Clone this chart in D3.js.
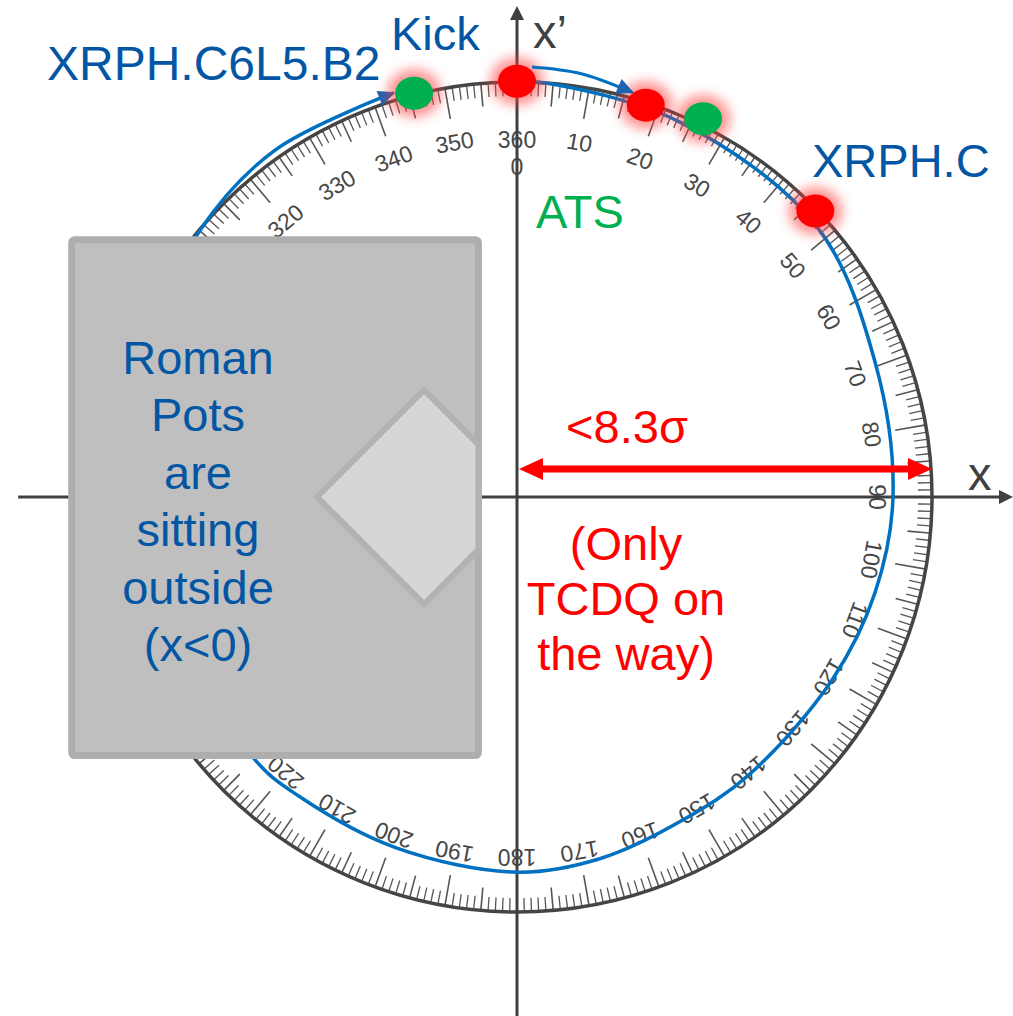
<!DOCTYPE html>
<html><head><meta charset="utf-8">
<script src="https://cdn.jsdelivr.net/npm/d3@7"></script>
<style>html,body{margin:0;padding:0;background:#fff;} svg{display:block;}</style>
</head><body>
<svg id="chart" width="1013" height="1016"></svg>
<script>
// ---------------- data ----------------
// protractor graduation labels (degrees)
const labelDegrees = [10,20,30,40,50,60,70,80,90,100,110,120,130,140,150,160,170,180,190,200,210,220,230,240,250,260,270,280,290,300,310,320,330,340,350];
const labelTexts   = ["10","20","30","40","50","60","70","80","90","100","110","120","130","140","150","160","170","180","190","200","210","220","230","240","250","260","270","280","290","300","310","320","330","340","350"];
const zeroLabels   = ["360","0"];
// beam orbit (angle in degrees, radius in % of protractor radius)
const orbitAngles = [0, 4, 23.5, 48, 70, 90, 105, 120, 140, 153, 167, 180, 199, 216, 225, 260, 290, 310, 325, 343];
const orbitRadii  = [100, 100, 98.5, 97.3, 92.1, 90.6, 89.3, 87.8, 87.2, 87.5, 89.4, 90.4, 89.4, 89.2, 89.4, 92.5, 96.5, 99.8, 101.9, 101.8];
// kick arrow
const kickAngles = [2, 8.5, 15.9];
const kickRadii  = [103.7, 103.2, 101.4];
// elements (dots) on the phase advance circle
const dotNames  = ["XRPH.C6L5.B2", "Kick", "TCDQ", "ATS", "XRPH.C"];
const dotAngles = [345.7, 0, 18.2, 26.2, 46.2];
const dotRadii  = [100.4, 100.2, 99.4, 101.6, 99.6];
const dotColors = ["#00B050", "#FF0000", "#FF0000", "#00B050", "#FF0000"];
// aperture arrow: from 0 to the protractor (in %), height in %
const apertureRange = [0, 100];
const apertureLevel = 6.75;
const apertureLabel = "<8.3σ";
// Roman pot box & jaw (in % coordinates)
const potBoxX = [-107.3, -9.3];
const potBoxY = [-62.3, 62.0];
const jawX = [-48.2, -22.4, -9.3, -9.3, -22.4];
const jawY = [0, 25.8, 12.7, -12.7, -25.8];
const potLines = ["Roman", "Pots", "are", "sitting", "outside", "(x<0)"];
const tcdqLines = ["(Only", "TCDQ on", "the way)"];

// ---------------- layout ----------------
const cx = 517, cy = 497, R = 415;
const svg = d3.select("#chart");
const rS = d3.scaleLinear().domain([0, 100]).range([0, R]);
const aS = d3.scaleLinear().domain([0, 360]).range([0, 2 * Math.PI]);
const xS = d3.scaleLinear().domain([-100, 100]).range([cx - R, cx + R]);
const yS = d3.scaleLinear().domain([-100, 100]).range([cy + R, cy - R]);
const polar = (deg, r) => [cx + rS(r) * Math.sin(aS(deg)), cy - rS(r) * Math.cos(aS(deg))];
const FONT = "'Liberation Sans', Arial, Helvetica, sans-serif";
const BLUE_TXT = "#0256A3", BLUE_LINE = "#0070C0", AXIS = "#404040";

const defs = svg.append("defs");
defs.append("filter").attr("id", "glow").attr("x", "-60%").attr("y", "-60%").attr("width", "220%").attr("height", "220%")
  .append("feGaussianBlur").attr("stdDeviation", 6);
function marker(id, color, len, half) {
  defs.append("marker").attr("id", id).attr("markerUnits", "userSpaceOnUse")
    .attr("markerWidth", len + 4).attr("markerHeight", half * 2 + 4)
    .attr("viewBox", `${-len - 2} ${-half - 2} ${len + 4} ${half * 2 + 4}`)
    .attr("refX", -2).attr("refY", 0).attr("orient", "auto")
    .append("path").attr("d", `M0,0 L${-len},${-half} L${-len},${half} Z`).attr("fill", color);
}
marker("blueHead", "#1C63B0", 17, 8);

// ---------------- protractor ----------------
const prot = svg.append("g").attr("transform", `translate(${cx},${cy})`);
const ticks = d3.range(0, 360, 1);
prot.selectAll("line.tick").data(ticks).join("line").attr("class", "tick")
  .attr("x1", 0).attr("x2", 0)
  .attr("y1", -rS(99.7))
  .attr("y2", d => -(R - (d % 10 === 0 ? 31 : d % 5 === 0 ? 23 : 14)))
  .attr("transform", d => `rotate(${d})`)
  .attr("stroke", "#555").attr("stroke-width", d => d % 5 === 0 ? 1.6 : 1.3);
prot.append("circle").attr("r", R).attr("fill", "none").attr("stroke", "#454545").attr("stroke-width", 3.5);
prot.selectAll("text.deg").data(labelDegrees).join("text").attr("class", "deg")
  .attr("transform", d => `rotate(${d}) translate(0,${-352})`)
  .attr("text-anchor", "middle").attr("font-family", FONT).attr("font-size", 23).attr("fill", "#474747")
  .text((d, i) => labelTexts[i]);
prot.append("text").attr("transform", `translate(0,${-349})`).attr("text-anchor", "middle")
  .attr("font-family", FONT).attr("font-size", 23).attr("fill", "#474747").text(zeroLabels[0]);
prot.append("text").attr("transform", `translate(0,${-322})`).attr("text-anchor", "middle")
  .attr("font-family", FONT).attr("font-size", 23).attr("fill", "#474747").text(zeroLabels[1]);

// ---------------- axes ----------------
const axes = svg.append("g");
axes.append("line").attr("x1", xS(-120.2)).attr("x2", 1006).attr("y1", yS(0)).attr("y2", yS(0))
  .attr("stroke", AXIS).attr("stroke-width", 3);
axes.append("path").attr("d", `M1013,${yS(0)} L999,${yS(0) - 7} L999,${yS(0) + 7} Z`).attr("fill", AXIS);
axes.append("line").attr("x1", xS(0)).attr("x2", xS(0)).attr("y1", 1016).attr("y2", 14)
  .attr("stroke", AXIS).attr("stroke-width", 3);
axes.append("path").attr("d", `M${xS(0)},6 L${xS(0) - 7},20 L${xS(0) + 7},20 Z`).attr("fill", AXIS);
axes.append("text").attr("x", 533).attr("y", 48).attr("font-family", FONT).attr("font-size", 47).attr("fill", AXIS).text("x’");
axes.append("text").attr("x", 968).attr("y", 490).attr("font-family", FONT).attr("font-size", 47).attr("fill", AXIS).text("x");

// ---------------- orbit ----------------
const radial = d3.lineRadial().angle(d => aS(d[0])).radius(d => rS(d[1])).curve(d3.curveCatmullRom.alpha(0.5));
svg.append("path").attr("transform", `translate(${cx},${cy})`)
  .attr("d", radial(orbitAngles.map((a, i) => [a, orbitRadii[i]])))
  .attr("fill", "none").attr("stroke", BLUE_LINE).attr("stroke-width", 3.5)
  .attr("marker-end", "url(#blueHead)");

// ---------------- aperture arrow ----------------
const ay = yS(apertureLevel), ax0 = xS(apertureRange[0]) + 2, ax1 = xS(apertureRange[1]);
const red = svg.append("g");
red.append("line").attr("x1", ax0 + 20).attr("x2", ax1 - 20).attr("y1", ay).attr("y2", ay)
  .attr("stroke", "#FF0000").attr("stroke-width", 7);
red.append("path").attr("d", `M${ax0},${ay} L${ax0 + 24},${ay - 11} L${ax0 + 24},${ay + 11} Z`).attr("fill", "#FF0000");
red.append("path").attr("d", `M${ax1},${ay} L${ax1 - 24},${ay - 11} L${ax1 - 24},${ay + 11} Z`).attr("fill", "#FF0000");
red.append("text").attr("x", 627).attr("y", 443).attr("text-anchor", "middle")
  .attr("font-family", FONT).attr("font-size", 47).attr("fill", "#FF0000").text(apertureLabel);
red.selectAll("text.tc").data(tcdqLines).join("text").attr("class", "tc")
  .attr("x", 626).attr("y", (d, i) => 560 + i * 55).attr("text-anchor", "middle")
  .attr("font-family", FONT).attr("font-size", 47).attr("fill", "#FF0000").text(d => d);

// ---------------- dots ----------------
const dots = dotAngles.map((a, i) => ({ p: polar(a, dotRadii[i]), c: dotColors[i], n: dotNames[i] }));
svg.append("g").selectAll("ellipse").data(dots).join("ellipse")
  .attr("cx", d => d.p[0]).attr("cy", d => d.p[1]).attr("rx", 27).attr("ry", 24)
  .attr("fill", "#FF3B3B").attr("opacity", 0.55).attr("filter", "url(#glow)");
svg.append("g").selectAll("ellipse").data(dots).join("ellipse")
  .attr("cx", d => d.p[0]).attr("cy", d => d.p[1]).attr("rx", 19).attr("ry", 16.5)
  .attr("fill", d => d.c);

// ---------------- kick arrow ----------------
svg.append("path").attr("transform", `translate(${cx},${cy})`)
  .attr("d", radial(kickAngles.map((a, i) => [a, kickRadii[i]])))
  .attr("fill", "none").attr("stroke", BLUE_LINE).attr("stroke-width", 3)
  .attr("marker-end", "url(#blueHead)");

// ---------------- Roman pot box ----------------
const box = svg.append("g");
box.append("rect").attr("x", xS(potBoxX[0])).attr("y", yS(potBoxY[1]))
  .attr("width", xS(potBoxX[1]) - xS(potBoxX[0])).attr("height", yS(potBoxY[0]) - yS(potBoxY[1]))
  .attr("rx", 3).attr("fill", "#BFBFBF").attr("stroke", "#AEAEAE").attr("stroke-width", 7);
box.append("polygon").attr("points", jawX.map((x, i) => `${xS(x)},${yS(jawY[i])}`).join(" "))
  .attr("fill", "#D6D6D6").attr("stroke", "#B2B2B2").attr("stroke-width", 6).attr("stroke-linejoin", "round");
box.selectAll("text").data(potLines).join("text")
  .attr("x", 198).attr("y", (d, i) => 374 + i * 57.4).attr("text-anchor", "middle")
  .attr("font-family", FONT).attr("font-size", 47).attr("fill", BLUE_TXT).text(d => d);

// ---------------- labels ----------------
const lab = svg.append("g").attr("font-family", FONT).attr("font-size", 47);
lab.append("text").attr("x", 47).attr("y", 80).attr("fill", BLUE_TXT).attr("font-size", 48).text(dotNames[0]);
lab.append("text").attr("x", 391).attr("y", 50).attr("fill", BLUE_TXT).text(dotNames[1]);
lab.append("text").attr("x", 812).attr("y", 177).attr("fill", BLUE_TXT).text(dotNames[4]);
lab.append("text").attr("x", 536).attr("y", 228).attr("fill", "#00B050").text(dotNames[3]);
</script>
</body></html>
